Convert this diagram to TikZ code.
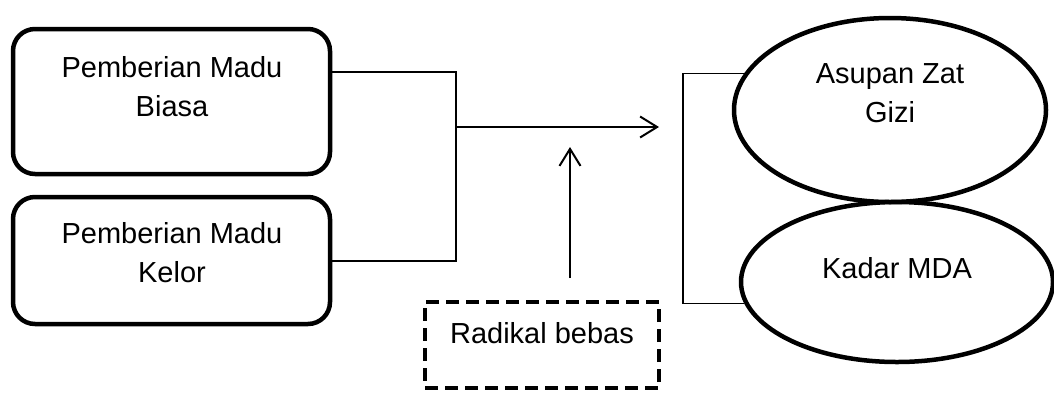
\documentclass[tikz,border=0pt]{standalone}
\usepackage{fontspec}
\setmainfont{Liberation Sans}
\usetikzlibrary{shapes.geometric,arrows.meta}
\begin{document}
\begin{tikzpicture}[x=1pt,y=-1pt,
  every node/.style={font=\fontsize{29}{39}\selectfont},
  rbox/.style={draw,line width=4.5pt,rounded corners=22pt,minimum width=317pt,inner sep=0pt},
  oval/.style={draw,ellipse,line width=4.5pt,inner sep=0pt},
  dbox/.style={draw,line width=4.5pt,dash pattern=on 13pt off 7pt,minimum width=234pt,minimum height=86pt,inner sep=0pt},
  lbl/.style={align=center,inner sep=0pt,anchor=base},
  thin/.style={line width=1.4pt},
  arr/.style={line width=2pt,-{Straight Barb[length=17pt,width=21pt,line width=2pt]}}]
\useasboundingbox (0,0) rectangle (1054,392);
% boxes
\node[rbox,minimum height=145pt] (b1) at (171.5,101.5) {};
\node[rbox,minimum height=127pt] (b2) at (171.5,260.5) {};
\node[lbl] (t1) at (172,116) {Pemberian Madu\\Biasa};
\node[lbl] (t2) at (172,282) {Pemberian Madu\\Kelor};
\node[dbox] (r) at (542,345) {};
\node[lbl] (tr) at (542,343) {Radikal bebas};
\node[oval,minimum width=312pt,minimum height=184pt] (e1) at (890,110) {};
\node[oval,minimum width=312pt,minimum height=160pt] (e2) at (897,282) {};
\node[lbl] (te1) at (890,122) {Asupan Zat\\Gizi};
\node[lbl] (te2) at (897,278) {Kadar MDA};
% coordinates
\coordinate (j1) at (456,72);
\coordinate (j2) at (456,261);
\coordinate (j0) at (456,127);
\coordinate (ah) at (659,127);
\coordinate (rv) at (570,278);
\coordinate (av) at (570,147);
\coordinate (k1) at (683,73);
\coordinate (k2) at (683,303);
% connectors
\draw[thin] (b1.east |- j1) -- (j1) -- (j2) -- (b2.east |- j2);
\draw[arr] (j0) -- (ah);
\draw[arr] (rv) -- (av);
\draw[thin] (e1.166) -- (k1 |- e1.166) -- (k2 |- e2.188) -- (e2.188);
\end{tikzpicture}
\end{document}
